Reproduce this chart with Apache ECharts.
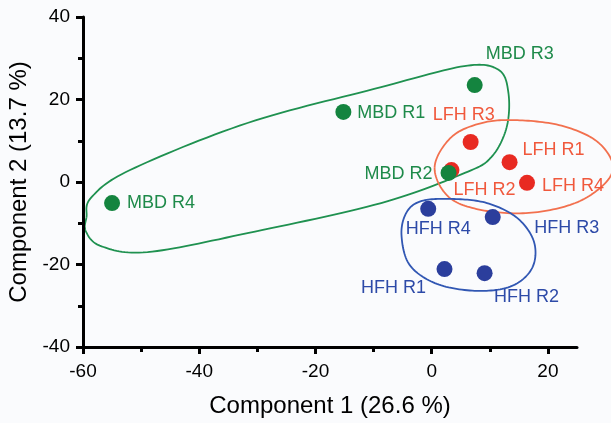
<!DOCTYPE html>
<html><head><meta charset="utf-8">
<script src="https://cdn.jsdelivr.net/npm/echarts@6/dist/echarts.min.js"></script>
<style>html,body{margin:0;padding:0;background:#fafbfd}#c{width:611px;height:423px}</style>
</head><body><div id="c"></div>
<script>
// ---- data ----
const mbdNames = ['MBD R1', 'MBD R2', 'MBD R3', 'MBD R4'];
const mbdX = [-15.2, 2.9, 7.4, -55.0];
const mbdY = [17.0, 2.2, 23.5, -5.1];

const lfhNames = ['LFH R1', 'LFH R2', 'LFH R3', 'LFH R4'];
const lfhX = [13.4, 3.4, 6.7, 16.4];
const lfhY = [4.8, 2.9, 9.7, -0.2];

const hfhNames = ['HFH R1', 'HFH R2', 'HFH R3', 'HFH R4'];
const hfhX = [2.2, 9.1, 10.5, -0.6];
const hfhY = [-21.1, -22.1, -8.5, -6.5];

const xMajorTicks = [-60, -40, -20, 0, 20];
const xMinorTicks = [-50, -30, -10, 10];
const yMajorTicks = [-40, -20, 0, 20, 40];

// group outlines (data units)
const mbdOutlineX = [-59.4, -58.6, -51.9, -31.7, -8.7, 5.6, 11.5, 13.2, 12.9, 10.3, 5.7, -8.7, -31.7, -48.9, -56.8, -59.5];
const mbdOutlineY = [-8.5, -3.8, 2.9, 14.3, 23.0, 28.1, 27.2, 21.6, 13.3, 6.1, 2.2, -5.1, -12.4, -17.0, -15.6, -12.0];
const lfhOutlineX = [0.5, 3.4, 8.6, 14.3, 21.9, 28.1, 31.1, 29.9, 24.7, 16.7, 8.6, 2.9];
const lfhOutlineY = [3.6, 10.9, 14.3, 15.0, 13.8, 10.2, 4.6, -0.2, -5.1, -7.5, -6.8, -3.6];
const hfhOutlineX = [-5.2, -4.3, -1.7, 3.5, 9.5, 14.7, 17.6, 17.3, 13.8, 7.8, 0.9, -3.8];
const hfhOutlineY = [-12.8, -7.3, -4.6, -4.1, -5.1, -8.7, -14.5, -20.8, -25.2, -26.4, -24.7, -20.1];

// ---- styles ----
const FONT = '"Liberation Sans", Arial, Helvetica, sans-serif';
const labelOffsets = {
  'MBD R1': [48, 1], 'MBD R2': [-50, 1], 'MBD R3': [45, -31], 'MBD R4': [49, 0],
  'LFH R1': [44, -12], 'LFH R2': [33, 20], 'LFH R3': [-7, -27], 'LFH R4': [46, 3],
  'HFH R1': [-51, 19], 'HFH R2': [42, 24], 'HFH R3': [74, 11], 'HFH R4': [10, 20]
};

function closedSpline(pts, seg) {
  const n = pts.length, out = [];
  for (let i = 0; i < n; i++) {
    const p0 = pts[(i - 1 + n) % n], p1 = pts[i], p2 = pts[(i + 1) % n], p3 = pts[(i + 2) % n];
    for (let s = 0; s < seg; s++) {
      const t = s / seg, t2 = t * t, t3 = t2 * t;
      out.push([0, 1].map(k => 0.5 * ((2 * p1[k]) + (-p0[k] + p2[k]) * t +
        (2 * p0[k] - 5 * p1[k] + 4 * p2[k] - p3[k]) * t2 +
        (-p0[k] + 3 * p1[k] - 3 * p2[k] + p3[k]) * t3)));
    }
  }
  return out;
}

function outlineSeries(xs, ys, color) {
  return {
    type: 'custom', clip: false, silent: true, z: 1,
    data: [[0, 0]],
    renderItem: function (params, api) {
      const pts = xs.map((x, i) => api.coord([x, ys[i]]));
      return {
        type: 'polyline',
        shape: { points: closedSpline(pts.concat([pts[0]]).slice(0, -1), 16).concat([closedSpline(pts, 16)[0]]) },
        style: { fill: null, stroke: color, lineWidth: 1.8 }
      };
    }
  };
}

function pointSeries(names, xs, ys, dotColor, labelColor) {
  return {
    type: 'scatter', z: 3, symbol: 'circle', symbolSize: 16,
    itemStyle: { color: dotColor, opacity: 1 },
    label: {
      show: true, position: 'inside', formatter: '{b}',
      color: labelColor, fontSize: 18, fontFamily: FONT
    },
    emphasis: { disabled: true },
    data: names.map((n, i) => ({
      name: n, value: [xs[i], ys[i]],
      label: { offset: labelOffsets[n] }
    }))
  };
}

const chart = echarts.init(document.getElementById('c'));
chart.setOption({
  backgroundColor: '#fafbfd',
  animation: false,
  grid: { left: 83, right: 34, top: 17, bottom: 76, outerBoundsMode: 'none' },
  xAxis: [{
    type: 'value', min: -60, max: 25, interval: 20, z: 5,
    axisLine: { show: true, onZero: false, lineStyle: { color: '#000', width: 3 } },
    axisTick: { show: true, inside: false, length: 7, customValues: xMajorTicks, lineStyle: { color: '#000', width: 3 } },
    axisLabel: { customValues: xMajorTicks, margin: 15, fontSize: 19, color: '#000', fontFamily: FONT },
    splitLine: { show: false },
    name: 'Component 1 (26.6 %)', nameLocation: 'middle', nameGap: 47,
    nameTextStyle: { fontSize: 24, color: '#000', fontFamily: FONT }
  }, {
    type: 'value', min: -60, max: 25, position: 'bottom', z: 5,
    axisLine: { show: false, onZero: false },
    axisTick: { show: true, inside: false, length: 5, customValues: xMinorTicks, lineStyle: { color: '#000', width: 3 } },
    axisLabel: { show: false }, splitLine: { show: false }
  }],
  yAxis: [{
    type: 'value', min: -40, max: 40, interval: 20, z: 5,
    axisLine: { show: true, onZero: false, lineStyle: { color: '#000', width: 3 } },
    axisTick: { show: true, inside: false, length: 7, lineStyle: { color: '#000', width: 3 } },
    minorTick: { show: true, splitNumber: 2, length: 5, lineStyle: { color: '#000', width: 3 } },
    axisLabel: { customValues: yMajorTicks, margin: 13, fontSize: 19, color: '#000', fontFamily: FONT },
    splitLine: { show: false },
    name: 'Component 2 (13.7 %)', nameLocation: 'middle', nameGap: 50, nameRotate: 90,
    nameTextStyle: { fontSize: 24, color: '#000', fontFamily: FONT }
  }],
  series: [
    outlineSeries(mbdOutlineX, mbdOutlineY, '#1f9150'),
    outlineSeries(lfhOutlineX, lfhOutlineY, '#f2704e'),
    outlineSeries(hfhOutlineX, hfhOutlineY, '#3157b3'),
    pointSeries(hfhNames, hfhX, hfhY, '#2b3e9c', '#2d4aa8'),
    pointSeries(lfhNames, lfhX, lfhY, '#e82a22', '#f0583c'),
    pointSeries(mbdNames, mbdX, mbdY, '#14843f', '#1e8a4a')
  ]
});
</script></body></html>
